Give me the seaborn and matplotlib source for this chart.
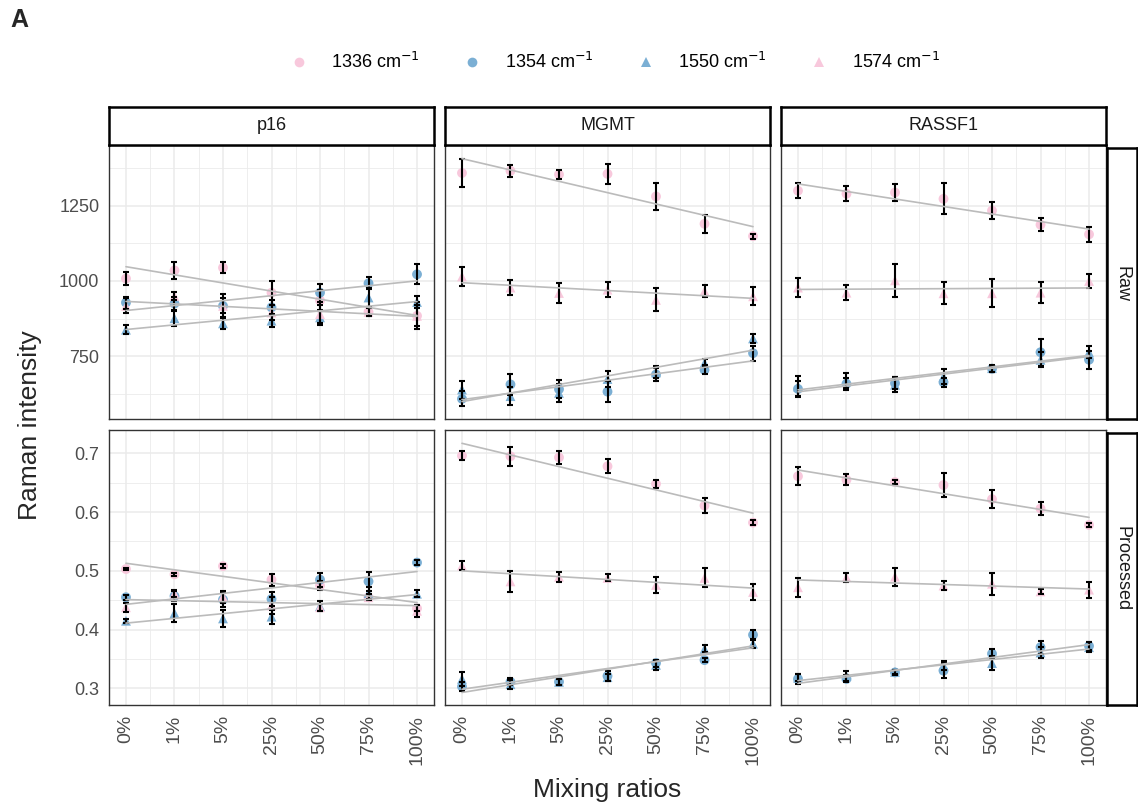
import numpy as np
import pandas as pd
import matplotlib
matplotlib.use("Agg")
import matplotlib.pyplot as plt
from matplotlib.lines import Line2D
import seaborn as sns

sns.set_style("white")
plt.rcParams["font.family"] = ["Liberation Sans", "DejaVu Sans"]

ratios = ["0%", "1%", "5%", "25%", "50%", "75%", "100%"]
genes = ["p16", "MGMT", "RASSF1"]
rows = ["Raw", "Processed"]
bands = ["1336", "1354", "1550", "1574"]

# mean intensities per panel
raw_p16 = {"1336": [1008, 1035, 1044, 961, 935, 897, 884],
           "1354": [928, 925, 917, 912, 961, 992, 1022],
           "1550": [838, 876, 859, 868, 879, 945, 930],
           "1574": [917, 950, 917, 895, 890, 897, 884]}
raw_mgmt = {"1336": [1359, 1366, 1354, 1356, 1281, 1190, 1149],
            "1354": [608, 656, 640, 632, 689, 704, 760],
            "1550": [639, 617, 628, 674, 696, 727, 809],
            "1574": [1015, 978, 960, 971, 937, 967, 949]}
raw_rassf1 = {"1336": [1300, 1290, 1294, 1273, 1234, 1187, 1155],
              "1354": [641, 658, 660, 663, 708, 763, 738],
              "1550": [649, 669, 655, 682, 710, 738, 763],
              "1574": [978, 961, 1002, 959, 959, 961, 1000]}
proc_p16 = {"1336": [0.503, 0.494, 0.508, 0.485, 0.475, 0.455, 0.436],
            "1354": [0.455, 0.457, 0.451, 0.452, 0.485, 0.482, 0.514],
            "1550": [0.415, 0.428, 0.419, 0.422, 0.440, 0.462, 0.461],
            "1574": [0.438, 0.461, 0.456, 0.441, 0.438, 0.455, 0.432]}
proc_mgmt = {"1336": [0.696, 0.695, 0.693, 0.678, 0.648, 0.611, 0.582],
             "1354": [0.303, 0.311, 0.311, 0.321, 0.343, 0.348, 0.391],
             "1550": [0.316, 0.307, 0.311, 0.319, 0.340, 0.367, 0.376],
             "1574": [0.509, 0.482, 0.490, 0.488, 0.476, 0.488, 0.464]}
proc_rassf1 = {"1336": [0.661, 0.655, 0.651, 0.646, 0.622, 0.606, 0.578],
               "1354": [0.316, 0.316, 0.327, 0.330, 0.359, 0.370, 0.372],
               "1550": [0.318, 0.321, 0.328, 0.339, 0.343, 0.361, 0.370],
               "1574": [0.472, 0.489, 0.490, 0.475, 0.478, 0.465, 0.468]}

# standard deviations per panel
raw_p16_sd = {"1336": [23, 27, 19, 40, 35, 15, 45],
              "1354": [20, 20, 25, 25, 30, 20, 33],
              "1550": [15, 25, 20, 22, 25, 30, 20],
              "1574": [25, 12, 40, 25, 30, 12, 35]}
raw_mgmt_sd = {"1336": [46, 21, 15, 34, 45, 29, 8],
               "1354": [25, 35, 30, 35, 20, 15, 25],
               "1550": [30, 30, 30, 25, 20, 12, 15],
               "1574": [32, 25, 34, 24, 38, 20, 30]}
raw_rassf1_sd = {"1336": [25, 25, 28, 52, 28, 21, 25],
                 "1354": [25, 20, 20, 15, 10, 45, 30],
                 "1550": [35, 25, 25, 25, 12, 25, 20],
                 "1574": [32, 25, 56, 36, 47, 34, 22]}
proc_p16_sd = {"1336": [0.002, 0.003, 0.004, 0.010, 0.008, 0.005, 0.005],
               "1354": [0.004, 0.008, 0.012, 0.012, 0.012, 0.016, 0.004],
               "1550": [0.003, 0.015, 0.015, 0.012, 0.008, 0.010, 0.006],
               "1574": [0.008, 0.006, 0.010, 0.015, 0.006, 0.005, 0.010]}
proc_mgmt_sd = {"1336": [0.008, 0.016, 0.011, 0.012, 0.007, 0.0125, 0.004],
                "1354": [0.008, 0.006, 0.005, 0.008, 0.006, 0.004, 0.008],
                "1550": [0.012, 0.008, 0.005, 0.006, 0.008, 0.006, 0.008],
                "1574": [0.007, 0.018, 0.0085, 0.006, 0.014, 0.016, 0.014]}
proc_rassf1_sd = {"1336": [0.015, 0.009, 0.004, 0.021, 0.015, 0.011, 0.003],
                  "1354": [0.009, 0.006, 0.004, 0.013, 0.008, 0.011, 0.006],
                  "1550": [0.006, 0.008, 0.004, 0.008, 0.012, 0.010, 0.009],
                  "1574": [0.016, 0.008, 0.0156, 0.0085, 0.019, 0.004, 0.0136]}

panels = {("Raw", "p16"): (raw_p16, raw_p16_sd),
          ("Raw", "MGMT"): (raw_mgmt, raw_mgmt_sd),
          ("Raw", "RASSF1"): (raw_rassf1, raw_rassf1_sd),
          ("Processed", "p16"): (proc_p16, proc_p16_sd),
          ("Processed", "MGMT"): (proc_mgmt, proc_mgmt_sd),
          ("Processed", "RASSF1"): (proc_rassf1, proc_rassf1_sd)}

records = []
for (row, gene), (means, sds) in panels.items():
    for b in bands:
        for i, r in enumerate(ratios):
            records.append({"row": row, "gene": gene, "band": b, "x": i + 1,
                            "ratio": r, "value": means[b][i], "sd": sds[b][i]})
df = pd.DataFrame(records)

pink = "#F8C8DC"
blue = "#7BAFD4"
palette = {"1336": pink, "1354": blue, "1550": blue, "1574": pink}
markers = {"1336": "o", "1354": "o", "1550": "^", "1574": "^"}

W, H = 1138, 811
fig = plt.figure(figsize=(W / 100, H / 100), dpi=100)


def px_axes(x0, y0, x1, y1):
    return fig.add_axes([x0 / W, 1 - y1 / H, (x1 - x0) / W, (y1 - y0) / H])


col_x = [(109, 434), (445, 770), (781, 1106)]
row_y = [(145, 419), (430, 705)]
ylims = {"Raw": (541, 1452), "Processed": (0.2716, 0.7397)}
yticks = {"Raw": [750, 1000, 1250], "Processed": [0.3, 0.4, 0.5, 0.6, 0.7]}
yminor = {"Raw": [625, 875, 1125, 1375], "Processed": [0.35, 0.45, 0.55, 0.65]}
ylabels = {"Raw": ["750", "1000", "1250"],
           "Processed": ["0.3", "0.4", "0.5", "0.6", "0.7"]}

for ri, row in enumerate(rows):
    for ci, gene in enumerate(genes):
        ax = px_axes(col_x[ci][0], row_y[ri][0], col_x[ci][1], row_y[ri][1])
        sub = df[(df["row"] == row) & (df["gene"] == gene)]
        sns.scatterplot(data=sub, x="x", y="value", hue="band", style="band",
                        palette=palette, markers=markers, s=50,
                        edgecolor="none", legend=False, ax=ax, zorder=2)
        ax.errorbar(sub["x"], sub["value"], yerr=sub["sd"], fmt="none",
                    ecolor="black", elinewidth=1.5, capsize=2.5,
                    capthick=1.5, zorder=3)
        for b in bands:
            bs = sub[sub["band"] == b]
            sns.regplot(data=bs, x="x", y="value", scatter=False, ci=None,
                        color="#BBBBBB", line_kws={"lw": 1.2, "zorder": 4},
                        ax=ax)
        ax.set_xlim(0.65, 7.35)
        ax.set_ylim(*ylims[row])
        ax.set_xticks(range(1, 8))
        ax.set_xticks(np.arange(1.5, 7, 1), minor=True)
        ax.set_yticks(yticks[row])
        ax.set_yticks(yminor[row], minor=True)
        ax.grid(which="major", color="#EBEBEB", lw=1.1, zorder=0)
        ax.grid(which="minor", color="#EBEBEB", lw=0.6, zorder=0)
        ax.set_axisbelow(True)
        for sp in ax.spines.values():
            sp.set_color("#333333")
            sp.set_linewidth(1.0)
            sp.set_visible(True)
        ax.set_xlabel("")
        ax.set_ylabel("")
        ax.tick_params(which="minor", length=0)
        if ri == 1:
            ax.set_xticklabels(ratios, rotation=90, fontsize=14,
                               color="#4D4D4D")
            ax.tick_params(axis="x", which="major", length=4, width=1,
                           color="#333333", pad=3)
        else:
            ax.tick_params(axis="x", which="major", length=0,
                           labelbottom=False)
        if ci == 0:
            ax.set_yticklabels(ylabels[row], fontsize=13, color="#4D4D4D")
            ax.tick_params(axis="y", which="major", length=4, width=1,
                           color="#333333", pad=3)
        else:
            ax.tick_params(axis="y", which="major", length=0,
                           labelleft=False)

# top strips
for ci, gene in enumerate(genes):
    sax = px_axes(col_x[ci][0], 107, col_x[ci][1], 145)
    sax.set_xticks([])
    sax.set_yticks([])
    for sp in sax.spines.values():
        sp.set_color("black")
        sp.set_linewidth(1.8)
    sax.text(0.5, 0.5, gene, ha="center", va="center", fontsize=13,
             color="#1A1A1A", transform=sax.transAxes)

# right strips
for ri, row in enumerate(rows):
    sax = px_axes(1107, row_y[ri][0] + 3, 1137, row_y[ri][1])
    sax.set_xticks([])
    sax.set_yticks([])
    for sp in sax.spines.values():
        sp.set_color("black")
        sp.set_linewidth(1.8)
    sax.text(0.5, 0.5, row, ha="center", va="center", fontsize=13,
             rotation=-90, color="#1A1A1A", transform=sax.transAxes)

fig.text(30 / W, 1 - 425 / H, "Raman intensity", rotation=90,
         ha="center", va="center", fontsize=19)
fig.text(607 / W, 1 - 790 / H, "Mixing ratios", ha="center", va="center",
         fontsize=19)
fig.text(10 / W, 1 - 20 / H, "A", ha="left", va="center", fontsize=18,
         fontweight="bold")

handles = [Line2D([], [], ls="none", marker=markers[b], color=palette[b],
                  markersize=7, markeredgewidth=0) for b in bands]
labels = [b + " cm$^{-1}$" for b in bands]
leg = fig.legend(handles, labels, loc="center", ncol=4,
                 bbox_to_anchor=(615 / W, 1 - 62 / H), frameon=False,
                 fontsize=13, handlelength=1.0, handletextpad=1.3,
                 columnspacing=2.4)
for t in leg.get_texts():
    t.set_color("black")

fig.savefig("out.png", dpi=100)
